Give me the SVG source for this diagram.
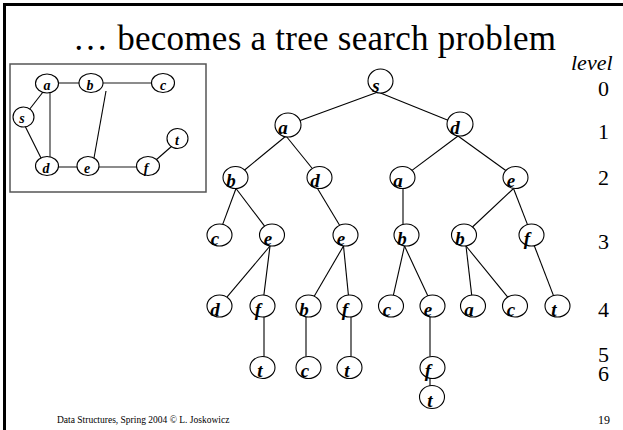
<svg xmlns="http://www.w3.org/2000/svg" width="623" height="430" viewBox="0 0 623 430">
<style>
.bg{fill:#fff}
.frame{fill:none;stroke:#000;stroke-width:3}
.box{fill:none;stroke:#555;stroke-width:1.5}
.e{stroke:#000;stroke-width:1.1;fill:none}
.g{stroke:#666;stroke-width:1.6;fill:none}
.n ellipse{fill:#fff;stroke:#000;stroke-width:1.1}
.tl{font-family:"Liberation Serif",serif;font-weight:bold;font-style:italic;font-size:19px;text-anchor:middle}
.il{font-family:"Liberation Serif",serif;font-weight:bold;font-style:italic;font-size:14px;text-anchor:middle}
.t{font-family:"Liberation Serif",serif;fill:#000}
.lv{font-family:"Liberation Serif",serif;font-size:22px}
</style>
<rect class="bg" x="0" y="0" width="623" height="430"/>
<path class="frame" d="M4.5,430 V4.5 H623"/>
<text class="t" x="73" y="50" font-size="35" textLength="483">… becomes a tree search problem</text>
<text class="t" x="571" y="70" font-size="22" font-style="italic">level</text>
<g class="lv">
<text x="598" y="96">0</text>
<text x="598" y="139">1</text>
<text x="598" y="185">2</text>
<text x="598" y="249">3</text>
<text x="598" y="317">4</text>
<text x="598" y="362">5</text>
<text x="598" y="381">6</text>
</g>
<text class="t" x="598" y="424" font-size="12">19</text>
<text class="t" x="57" y="423" font-size="9.5">Data Structures,  Spring 2004 © L. Joskowicz</text>

<!-- inset graph -->
<rect class="box" x="10" y="64" width="196" height="128"/>
<g id="inset-edges">
<line class="g" x1="58" y1="83" x2="79" y2="83"/>
<line class="g" x1="103" y1="83" x2="151" y2="83"/>
<line class="g" x1="50" y1="92" x2="50" y2="157"/>
<line class="e" x1="29" y1="110" x2="43" y2="92"/>
<line class="e" x1="25" y1="126" x2="41" y2="158"/>
<line class="e" x1="106" y1="91" x2="94" y2="158"/>
<line class="g" x1="58" y1="167" x2="77" y2="167"/>
<line class="g" x1="99" y1="167" x2="137" y2="167"/>
<line class="e" x1="156" y1="160" x2="172" y2="146"/>
</g>
<g id="i-a" class="n"><ellipse cx="47" cy="83.5" rx="11.5" ry="9.5"/><text class="il" x="47" y="90">a</text></g>
<g id="i-b" class="n"><ellipse cx="91" cy="83" rx="12" ry="9.5"/><text class="il" x="90" y="90">b</text></g>
<g id="i-c" class="n"><ellipse cx="163" cy="83" rx="11.5" ry="9.5"/><text class="il" x="163" y="90">c</text></g>
<g id="i-s" class="n"><ellipse cx="23.5" cy="117" rx="10.5" ry="10"/><text class="il" x="22" y="123">s</text></g>
<g id="i-d" class="n"><ellipse cx="47" cy="166" rx="11.5" ry="9.5"/><text class="il" x="46" y="173">d</text></g>
<g id="i-e" class="n"><ellipse cx="88" cy="166" rx="11" ry="9.5"/><text class="il" x="87" y="173">e</text></g>
<g id="i-f" class="n"><ellipse cx="148" cy="166" rx="11.5" ry="9.5"/><text class="il" x="146" y="173">f</text></g>
<g id="i-t" class="n"><ellipse cx="177.5" cy="138.5" rx="10.5" ry="10"/><text class="il" x="177" y="145">t</text></g>

<!-- tree connectors -->
<g id="tree-edges" class="e">
<line x1="378" y1="92" x2="299.5" y2="120.8"/>
<line x1="378" y1="92" x2="448.6" y2="120.4"/>
<line x1="286" y1="136" x2="244.6" y2="170"/>
<line x1="286" y1="136" x2="312.3" y2="168.5"/>
<line x1="458" y1="136" x2="412" y2="170.4"/>
<line x1="458" y1="136" x2="505.8" y2="170.5"/>
<line x1="236" y1="188.5" x2="222.7" y2="224.4"/>
<line x1="236" y1="188.5" x2="264.6" y2="226.1"/>
<line x1="317.5" y1="188.5" x2="339.6" y2="225.3"/>
<line x1="403" y1="188.5" x2="403" y2="224"/>
<line x1="513.5" y1="188.5" x2="472.5" y2="227"/>
<line x1="513.5" y1="188.5" x2="527.5" y2="224.6"/>
<line x1="270" y1="246" x2="226.9" y2="297.2"/>
<line x1="270" y1="246" x2="263.9" y2="295.1"/>
<line x1="343.5" y1="246" x2="314.2" y2="296.2"/>
<line x1="343.5" y1="246" x2="348.4" y2="295"/>
<line x1="404.5" y1="246" x2="393.4" y2="295.2"/>
<line x1="404.5" y1="246" x2="427.8" y2="295.8"/>
<line x1="466" y1="246" x2="471.7" y2="295.1"/>
<line x1="466" y1="246" x2="507.7" y2="297.1"/>
<line x1="534" y1="245" x2="553.5" y2="295.6"/>
<line x1="264" y1="317" x2="264" y2="356.5"/>
<line x1="306" y1="317" x2="306" y2="356.5"/>
<line x1="351" y1="317" x2="351" y2="356.5"/>
<line x1="430" y1="317" x2="430" y2="356.5"/>
<line x1="430" y1="378.5" x2="430" y2="388"/>
</g>

<!-- tree nodes -->
<g id="n-s" class="n"><ellipse cx="380.5" cy="81" rx="12.5" ry="12"/><text class="tl" x="376" y="92">s</text></g>
<g id="n-a1" class="n"><ellipse cx="288" cy="125" rx="13" ry="12"/><text class="tl" x="283" y="134">a</text></g>
<g id="n-d1" class="n"><ellipse cx="460" cy="124" rx="13" ry="12"/><text class="tl" x="455" y="134">d</text></g>
<g id="n-b2" class="n"><ellipse cx="235.5" cy="177.5" rx="12.5" ry="11"/><text class="tl" x="231" y="187">b</text></g>
<g id="n-d2" class="n"><ellipse cx="319.5" cy="177.5" rx="12.5" ry="11"/><text class="tl" x="315" y="187">d</text></g>
<g id="n-a2" class="n"><ellipse cx="402.5" cy="177.5" rx="12.5" ry="11"/><text class="tl" x="398" y="187">a</text></g>
<g id="n-e2" class="n"><ellipse cx="515.5" cy="177.5" rx="12.5" ry="11"/><text class="tl" x="511" y="187">e</text></g>
<g id="n-c3" class="n"><ellipse cx="219.5" cy="235" rx="12.5" ry="11"/><text class="tl" x="215" y="245">c</text></g>
<g id="n-e3a" class="n"><ellipse cx="272" cy="235" rx="12.5" ry="11"/><text class="tl" x="268" y="245">e</text></g>
<g id="n-e3b" class="n"><ellipse cx="345.5" cy="235" rx="12.5" ry="11"/><text class="tl" x="341" y="245">e</text></g>
<g id="n-b3a" class="n"><ellipse cx="406.5" cy="235" rx="12.5" ry="11"/><text class="tl" x="402" y="245">b</text></g>
<g id="n-b3b" class="n"><ellipse cx="464" cy="235" rx="12.5" ry="11"/><text class="tl" x="460" y="245">b</text></g>
<g id="n-f3" class="n"><ellipse cx="531.5" cy="235" rx="12.5" ry="11"/><text class="tl" x="527" y="245">f</text></g>
<g id="n-d4" class="n"><ellipse cx="219.5" cy="306" rx="12.5" ry="11"/><text class="tl" x="215" y="316">d</text></g>
<g id="n-f4a" class="n"><ellipse cx="262.5" cy="306" rx="12.5" ry="11"/><text class="tl" x="258" y="316">f</text></g>
<g id="n-b4" class="n"><ellipse cx="308.5" cy="306" rx="12.5" ry="11"/><text class="tl" x="304" y="316">b</text></g>
<g id="n-f4b" class="n"><ellipse cx="349.5" cy="306" rx="12.5" ry="11"/><text class="tl" x="345" y="316">f</text></g>
<g id="n-c4a" class="n"><ellipse cx="391" cy="306" rx="12.5" ry="11"/><text class="tl" x="387" y="316">c</text></g>
<g id="n-e4" class="n"><ellipse cx="432.5" cy="306" rx="12.5" ry="11"/><text class="tl" x="428" y="316">e</text></g>
<g id="n-a4" class="n"><ellipse cx="473" cy="306" rx="12.5" ry="11"/><text class="tl" x="469" y="316">a</text></g>
<g id="n-c4b" class="n"><ellipse cx="515" cy="306" rx="12.5" ry="11"/><text class="tl" x="511" y="316">c</text></g>
<g id="n-t4" class="n"><ellipse cx="557.5" cy="306" rx="12.5" ry="11"/><text class="tl" x="554" y="316">t</text></g>
<g id="n-t5a" class="n"><ellipse cx="262.5" cy="367.5" rx="12.5" ry="11"/><text class="tl" x="260" y="377">t</text></g>
<g id="n-c5" class="n"><ellipse cx="308.5" cy="367.5" rx="12.5" ry="11"/><text class="tl" x="305" y="377">c</text></g>
<g id="n-t5b" class="n"><ellipse cx="349.5" cy="367.5" rx="12.5" ry="11"/><text class="tl" x="347" y="377">t</text></g>
<g id="n-f5" class="n"><ellipse cx="432.5" cy="367.5" rx="12.5" ry="11"/><text class="tl" x="428" y="377">f</text></g>
<g id="n-t6" class="n"><ellipse cx="432" cy="397" rx="12.5" ry="11.5"/><text class="tl" x="430" y="407">t</text></g>
</svg>
